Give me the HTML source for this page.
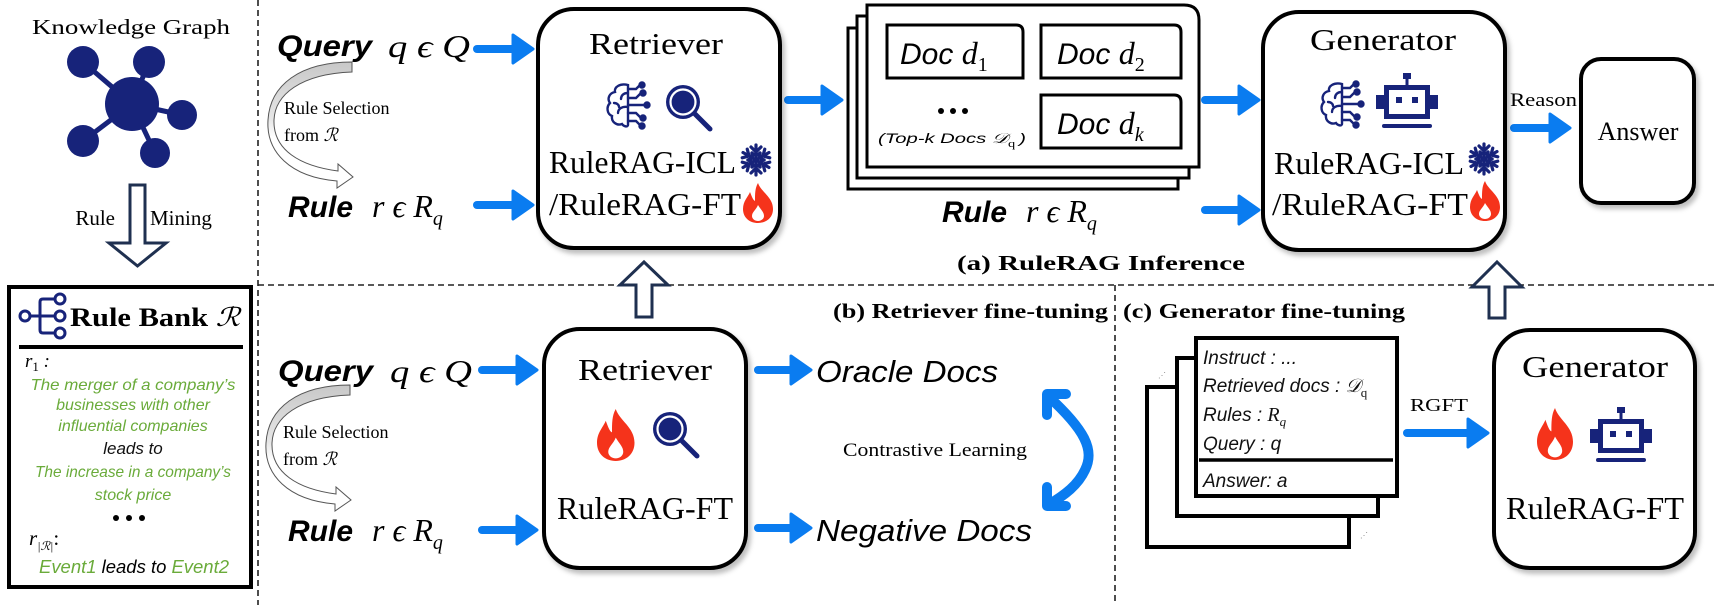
<!DOCTYPE html>
<html><head><meta charset="utf-8">
<style>
html,body{margin:0;padding:0;background:#fff;}
svg{display:block;}
.serif{font-family:"Liberation Serif",serif;}
.sans{font-family:"Liberation Sans",sans-serif;}
</style></head>
<body>
<svg width="1718" height="605" viewBox="0 0 1718 605" xmlns="http://www.w3.org/2000/svg">
<defs>
  <filter id="sh" x="-10%" y="-10%" width="125%" height="125%">
    <feDropShadow dx="3" dy="4" stdDeviation="2.5" flood-color="#000" flood-opacity="0.25"/>
  </filter>
  <linearGradient id="gg" x1="0" y1="0" x2="0" y2="1">
    <stop offset="0" stop-color="#c8c8c8"/><stop offset="0.45" stop-color="#e6e6e6"/><stop offset="0.6" stop-color="#fff"/>
  </linearGradient>
  <g id="flame">
    <path d="M15,0 C18,9 30,14 30,26 C30,35 23,40 15,40 C7,40 0,35 0,26 C0,18 5,14 7,9 C9,14 10,17 12,18 C12,11 12,5 15,0 Z" fill="#f5331b"/>
    <path d="M15,22 C18,27 21,29 21,33 C21,36 18,38 15,38 C12,38 9,36 9,33 C9,29 13,27 15,22 Z" fill="#fff"/>
  </g>
  <g id="mag">
    <circle cx="19" cy="19" r="17" fill="#17237a"/>
    <circle cx="19" cy="19" r="12.5" fill="none" stroke="#fff" stroke-width="2.2"/>
    <line x1="31" y1="31" x2="46" y2="46" stroke="#17237a" stroke-width="5" stroke-linecap="round"/>
  </g>
  <g id="brain" fill="none" stroke="#17237a" stroke-width="2.4" stroke-linecap="round">
    <path d="M22,2 C14,0 8,4 9,9 C3,10 1,16 4,20 C0,24 1,31 6,33 C5,39 11,43 16,41 C18,44 22,44 22,42 Z"/>
    <path d="M22,10 C17,10 15,13 15,16 M22,24 C16,23 12,26 12,30 M8,20 C11,20 13,22 13,24"/>
    <path d="M22,6 L30,6 L34,2 M22,15 L30,15 L35,10 M22,22 L38,22 M22,30 L30,30 L35,35 M22,38 L30,38 L34,42"/>
    <circle cx="36" cy="2" r="2.5" fill="#17237a"/><circle cx="37" cy="10" r="2.5" fill="#17237a"/>
    <circle cx="41" cy="22" r="2.5" fill="#17237a"/><circle cx="37" cy="35" r="2.5" fill="#17237a"/>
    <circle cx="36" cy="43" r="2.5" fill="#17237a"/>
  </g>
  <g id="robot" fill="#17237a">
    <rect x="27" y="0" width="8" height="6"/><rect x="29.5" y="5" width="3" height="7"/>
    <path d="M8,12 H54 V46 H8 Z M13,17 V41 H49 V17 Z" fill-rule="evenodd"/>
    <rect x="0" y="22" width="8" height="14"/><rect x="54" y="22" width="8" height="14"/>
    <rect x="20" y="24" width="6" height="6"/><rect x="36" y="24" width="6" height="6"/>
    <rect x="6" y="51" width="50" height="4" rx="2"/>
  </g>
  <g id="snow" stroke="#17237a" stroke-width="3.2" stroke-linecap="round" fill="none">
    <g id="arm"><line x1="16" y1="16" x2="16" y2="1"/><polyline points="11,3 16,8 21,3"/><polyline points="12,9 16,12 20,9"/></g>
    <use href="#arm" transform="rotate(60 16 16)"/><use href="#arm" transform="rotate(120 16 16)"/>
    <use href="#arm" transform="rotate(180 16 16)"/><use href="#arm" transform="rotate(240 16 16)"/>
    <use href="#arm" transform="rotate(300 16 16)"/>
  </g>
  <g id="selarrow">
    <path d="M352,62 L352,72 C300,74 275,95 274,120 C273,150 300,166 338,171 L338,164 L353,177 L337,188 L337,181 C290,177 266,152 268,120 C270,85 300,62 352,62 Z" fill="url(#gg)" stroke="#555" stroke-width="1"/>
  </g>
</defs>

<!-- dashed separators -->
<g stroke="#222" stroke-width="1.6" stroke-dasharray="6,4" fill="none">
  <line x1="258" y1="0" x2="258" y2="605"/>
  <line x1="258" y1="285" x2="1718" y2="285"/>
  <line x1="1115" y1="285" x2="1115" y2="605"/>
</g>

<!-- LEFT COLUMN -->
<text x="131" y="34" class="serif" font-size="21" text-anchor="middle" textLength="198" lengthAdjust="spacingAndGlyphs">Knowledge Graph</text>
<g stroke="#17237a" stroke-width="5" fill="#17237a">
  <line x1="132" y1="104" x2="83" y2="62"/><line x1="132" y1="104" x2="149" y2="62"/>
  <line x1="132" y1="104" x2="182" y2="115"/><line x1="132" y1="104" x2="83" y2="141"/>
  <line x1="132" y1="104" x2="155" y2="153"/>
  <circle cx="132" cy="104" r="27" stroke="none"/>
  <circle cx="83" cy="62" r="16" stroke="none"/><circle cx="149" cy="62" r="16" stroke="none"/>
  <circle cx="182" cy="115" r="15" stroke="none"/><circle cx="83" cy="141" r="16" stroke="none"/>
  <circle cx="155" cy="153" r="15" stroke="none"/>
</g>
<path d="M130,185 H145 V243 H166 L137.5,266 L109,243 H130 Z" fill="#fff" stroke="#1f3050" stroke-width="3" stroke-linejoin="miter"/>
<text x="115" y="225" class="serif" font-size="21" text-anchor="end">Rule</text>
<text x="150" y="225" class="serif" font-size="21">Mining</text>

<rect x="9" y="287" width="242" height="300" fill="#fff" stroke="#000" stroke-width="4"/>
<g stroke="#17237a" stroke-width="3" fill="none">
  <circle cx="25" cy="316" r="5"/><circle cx="60" cy="299" r="5"/><circle cx="60" cy="316" r="5"/><circle cx="60" cy="333" r="5"/>
  <line x1="30" y1="316" x2="55" y2="316"/><path d="M40,316 V302 Q40,299 43,299 H55 M40,316 V330 Q40,333 43,333 H55"/>
</g>
<text x="70" y="326" class="serif" font-size="26" font-weight="bold" textLength="170" lengthAdjust="spacingAndGlyphs">Rule Bank <tspan font-style="italic" font-weight="normal">ℛ</tspan></text>
<line x1="19" y1="347" x2="243" y2="347" stroke="#000" stroke-width="4"/>
<text x="25" y="367" class="serif" font-size="19" font-style="italic">r<tspan font-size="13" dy="4" font-style="normal">1</tspan><tspan dy="-4"> :</tspan></text>
<g class="sans" font-size="16" font-style="italic" text-anchor="middle" fill="#6aab3a">
  <text x="133" y="390" textLength="205" lengthAdjust="spacingAndGlyphs">The merger of a company’s</text>
  <text x="133" y="410">businesses with other</text>
  <text x="133" y="431">influential companies</text>
  <text x="133" y="454" fill="#111" font-size="17">leads  to</text>
  <text x="133" y="477" textLength="196" lengthAdjust="spacingAndGlyphs">The increase in a company’s</text>
  <text x="133" y="500">stock price</text>
</g>
<g fill="#000"><circle cx="116" cy="518" r="3"/><circle cx="129" cy="518" r="3"/><circle cx="142" cy="518" r="3"/></g>
<text x="29" y="545" class="serif" font-size="21" font-style="italic">r<tspan font-size="12" dy="5">|ℛ|</tspan><tspan dy="-5" font-style="normal">:</tspan></text>
<text x="134" y="573" class="sans" font-size="18" font-style="italic" text-anchor="middle" textLength="190" lengthAdjust="spacingAndGlyphs"><tspan fill="#6aab3a">Event1</tspan> leads to <tspan fill="#6aab3a">Event2</tspan></text>

<!-- Blue arrows -->
<g fill="#0a7cf0" stroke="#0a7cf0" stroke-linejoin="round" stroke-linecap="round">
  <!-- x1,x2,y -->
  <g stroke-width="3">
    <line x1="477" y1="49" x2="515" y2="49" stroke-width="8"/><path d="M513,35 L533,49 L513,63 Z"/>
    <line x1="477" y1="205" x2="515" y2="205" stroke-width="8"/><path d="M513,191 L533,205 L513,219 Z"/>
    <line x1="788" y1="100" x2="824" y2="100" stroke-width="8"/><path d="M822,86 L842,100 L822,114 Z"/>
    <line x1="1205" y1="100" x2="1241" y2="100" stroke-width="8"/><path d="M1239,86 L1259,100 L1239,114 Z"/>
    <line x1="1205" y1="210" x2="1241" y2="210" stroke-width="8"/><path d="M1239,196 L1259,210 L1239,224 Z"/>
    <line x1="1514" y1="128" x2="1552" y2="128" stroke-width="8"/><path d="M1550,114 L1570,128 L1550,142 Z"/>
    <line x1="482" y1="370" x2="519" y2="370" stroke-width="8"/><path d="M517,356 L537,370 L517,384 Z"/>
    <line x1="482" y1="530" x2="519" y2="530" stroke-width="8"/><path d="M517,516 L537,530 L517,544 Z"/>
    <line x1="758" y1="370" x2="793" y2="370" stroke-width="8"/><path d="M791,356 L811,370 L791,384 Z"/>
    <line x1="758" y1="528" x2="793" y2="528" stroke-width="8"/><path d="M791,514 L811,528 L791,542 Z"/>
    <line x1="1407" y1="433" x2="1470" y2="433" stroke-width="8"/><path d="M1468,419 L1488,433 L1468,447 Z"/>
  </g>
</g>
<!-- contrastive double arrow -->
<g fill="none" stroke="#0a7cf0" stroke-width="10" stroke-linecap="round" stroke-linejoin="round">
  <path d="M1048,396 C1085,430 1095,450 1085,470 C1078,485 1065,495 1048,505"/>
  <polyline points="1047,415 1047,394 1066,394"/>
  <polyline points="1047,487 1047,506 1066,506"/>
</g>

<!-- Hollow up arrows -->
<g fill="#fff" stroke="#1f3050" stroke-width="3">
  <path d="M636,317 V285 H620 L644,262 L668,285 H652 V317 Z"/>
  <path d="M1489,318 V287 H1472 L1497,262 L1522,287 H1505 V318 Z"/>
</g>

<!-- Section a: inputs -->
<text x="277" y="56" class="sans" font-size="30" font-weight="bold" font-style="italic" textLength="95" lengthAdjust="spacingAndGlyphs">Query</text>
<text x="388" y="57" class="serif" font-size="32" font-style="italic" textLength="82" lengthAdjust="spacingAndGlyphs">q ϵ Q</text>
<use href="#selarrow"/>
<text x="284" y="114" class="serif" font-size="18">Rule Selection</text>
<text x="284" y="141" class="serif" font-size="18">from <tspan font-style="italic">ℛ</tspan></text>
<text x="288" y="217" class="sans" font-size="30" font-weight="bold" font-style="italic" textLength="65" lengthAdjust="spacingAndGlyphs">Rule</text>
<text x="372" y="217" class="serif" font-size="32" font-style="italic">r ϵ R<tspan font-size="20" dy="8">q</tspan></text>

<!-- Retriever a -->
<rect x="538" y="9" width="242" height="239" rx="36" fill="#fff" stroke="#000" stroke-width="4" filter="url(#sh)"/>
<text x="656" y="54" class="serif" font-size="31" text-anchor="middle" textLength="134" lengthAdjust="spacingAndGlyphs">Retriever</text>
<use href="#brain" x="606" y="83"/>
<use href="#mag" x="664" y="83"/>
<text x="549" y="173" class="serif" font-size="32" textLength="187" lengthAdjust="spacingAndGlyphs">RuleRAG-ICL</text>
<use href="#snow" x="740" y="144"/>
<text x="549" y="215" class="serif" font-size="32" textLength="192" lengthAdjust="spacingAndGlyphs">/RuleRAG-FT</text>
<use href="#flame" x="743" y="183"/>

<!-- Docs stack -->
<path d="M848,28 H1163 Q1178,28 1178,43 V189 H848 Z" fill="#fff" stroke="#000" stroke-width="3"/>
<path d="M857,16 H1174 Q1189,16 1189,31 V178 H857 Z" fill="#fff" stroke="#000" stroke-width="3"/>
<path d="M867,5 H1184 Q1199,5 1199,20 V167 H867 Z" fill="#fff" stroke="#000" stroke-width="3"/>
<g fill="#fff" stroke="#000" stroke-width="3">
  <path d="M887,25 H1016 Q1023,25 1023,32 V78 H887 Z"/>
  <path d="M1041,25 H1174 Q1181,25 1181,32 V78 H1041 Z"/>
  <path d="M1041,95 H1174 Q1181,95 1181,102 V148 H1041 Z"/>
</g>
<g font-size="30" font-style="italic">
  <text x="900" y="64" class="sans">Doc <tspan class="serif" font-size="32">d</tspan><tspan class="serif" font-style="normal" font-size="20" dy="7">1</tspan></text>
  <text x="1057" y="64" class="sans">Doc <tspan class="serif" font-size="32">d</tspan><tspan class="serif" font-style="normal" font-size="20" dy="7">2</tspan></text>
  <text x="1057" y="134" class="sans">Doc <tspan class="serif" font-size="32">d</tspan><tspan class="serif" font-size="20" dy="7">k</tspan></text>
</g>
<g fill="#000"><circle cx="941" cy="111" r="3"/><circle cx="953" cy="111" r="3"/><circle cx="965" cy="111" r="3"/></g>
<text x="878" y="143" class="sans" font-size="14" font-style="italic" textLength="148" lengthAdjust="spacingAndGlyphs">(Top-k Docs <tspan class="serif">𝒟</tspan><tspan class="serif" font-style="normal" font-size="10" dy="4">q</tspan><tspan dy="-4" font-size="10"> </tspan>)</text>
<text x="942" y="222" class="sans" font-size="30" font-weight="bold" font-style="italic" textLength="65" lengthAdjust="spacingAndGlyphs">Rule</text>
<text x="1026" y="222" class="serif" font-size="32" font-style="italic">r ϵ R<tspan font-size="20" dy="8">q</tspan></text>

<!-- Generator a -->
<rect x="1263" y="12" width="242" height="238" rx="36" fill="#fff" stroke="#000" stroke-width="4" filter="url(#sh)"/>
<text x="1383" y="50" class="serif" font-size="31" text-anchor="middle" textLength="146" lengthAdjust="spacingAndGlyphs">Generator</text>
<use href="#brain" x="1320" y="82"/>
<use href="#robot" x="1376" y="73"/>
<text x="1274" y="174" class="serif" font-size="32" textLength="190" lengthAdjust="spacingAndGlyphs">RuleRAG-ICL</text>
<use href="#snow" x="1468" y="143"/>
<text x="1272" y="215" class="serif" font-size="32" textLength="196" lengthAdjust="spacingAndGlyphs">/RuleRAG-FT</text>
<use href="#flame" x="1470" y="181"/>

<text x="1510" y="106" class="serif" font-size="19" textLength="67" lengthAdjust="spacingAndGlyphs">Reason</text>
<rect x="1581" y="59" width="113" height="144" rx="20" fill="#fff" stroke="#000" stroke-width="4" filter="url(#sh)"/>
<text x="1638" y="140" class="serif" font-size="26" text-anchor="middle">Answer</text>

<text x="957" y="270" class="serif" font-size="21" font-weight="bold" textLength="288" lengthAdjust="spacingAndGlyphs">(a) RuleRAG  Inference</text>
<text x="833" y="318" class="serif" font-size="21" font-weight="bold" textLength="275" lengthAdjust="spacingAndGlyphs">(b) Retriever fine-tuning</text>
<text x="1123" y="318" class="serif" font-size="21" font-weight="bold" textLength="282" lengthAdjust="spacingAndGlyphs">(c) Generator fine-tuning</text>

<!-- Section b -->
<text x="278" y="381" class="sans" font-size="30" font-weight="bold" font-style="italic" textLength="95" lengthAdjust="spacingAndGlyphs">Query</text>
<text x="390" y="382" class="serif" font-size="32" font-style="italic" textLength="82" lengthAdjust="spacingAndGlyphs">q ϵ Q</text>
<use href="#selarrow" transform="translate(-2,323)"/>
<text x="283" y="438" class="serif" font-size="18">Rule Selection</text>
<text x="283" y="465" class="serif" font-size="18">from <tspan font-style="italic">ℛ</tspan></text>
<text x="288" y="541" class="sans" font-size="30" font-weight="bold" font-style="italic" textLength="65" lengthAdjust="spacingAndGlyphs">Rule</text>
<text x="372" y="541" class="serif" font-size="32" font-style="italic">r ϵ R<tspan font-size="20" dy="8">q</tspan></text>

<rect x="544" y="329" width="202" height="239" rx="36" fill="#fff" stroke="#000" stroke-width="4" filter="url(#sh)"/>
<text x="645" y="380" class="serif" font-size="31" text-anchor="middle" textLength="134" lengthAdjust="spacingAndGlyphs">Retriever</text>
<use href="#flame" transform="translate(597,409) scale(1.25,1.3)"/>
<use href="#mag" x="651" y="410"/>
<text x="645" y="519" class="serif" font-size="32" text-anchor="middle" textLength="176" lengthAdjust="spacingAndGlyphs">RuleRAG-FT</text>

<text x="816" y="382" class="sans" font-size="31" font-style="italic" textLength="182" lengthAdjust="spacingAndGlyphs">Oracle Docs</text>
<text x="816" y="541" class="sans" font-size="31" font-style="italic" textLength="216" lengthAdjust="spacingAndGlyphs">Negative Docs</text>
<text x="843" y="456" class="serif" font-size="19" textLength="184" lengthAdjust="spacingAndGlyphs">Contrastive Learning</text>

<!-- Section c stack -->
<rect x="1147" y="387" width="202" height="160" fill="#fff" stroke="#000" stroke-width="4"/>
<rect x="1177" y="358" width="201" height="158" fill="#fff" stroke="#000" stroke-width="4"/>
<rect x="1196" y="338" width="201" height="158" fill="#fff" stroke="#000" stroke-width="4"/>
<text x="1158" y="378" font-size="8" fill="#888" class="sans">⋰</text>
<text x="1360" y="538" font-size="8" fill="#888" class="sans">⋰</text>
<g class="sans" font-size="19" font-style="italic" fill="#111">
  <text x="1203" y="364">Instruct :  ...</text>
  <text x="1203" y="392">Retrieved docs : <tspan class="serif">𝒟</tspan><tspan class="serif" font-style="normal" font-size="13" dy="5">q</tspan></text>
  <text x="1203" y="421">Rules : <tspan class="serif" font-size="20">R</tspan><tspan class="serif" font-size="13" dy="5">q</tspan></text>
  <text x="1203" y="450">Query : q</text>
  <text x="1203" y="487">Answer: a</text>
</g>
<line x1="1199" y1="460" x2="1393" y2="460" stroke="#000" stroke-width="3.5"/>

<text x="1410" y="411" class="serif" font-size="18" textLength="58" lengthAdjust="spacingAndGlyphs">RGFT</text>

<rect x="1494" y="330" width="201" height="238" rx="36" fill="#fff" stroke="#000" stroke-width="4" filter="url(#sh)"/>
<text x="1595" y="377" class="serif" font-size="31" text-anchor="middle" textLength="146" lengthAdjust="spacingAndGlyphs">Generator</text>
<use href="#flame" transform="translate(1537,408) scale(1.2,1.3)"/>
<use href="#robot" x="1590" y="407"/>
<text x="1595" y="519" class="serif" font-size="32" text-anchor="middle" textLength="178" lengthAdjust="spacingAndGlyphs">RuleRAG-FT</text>
</svg>
</body></html>
